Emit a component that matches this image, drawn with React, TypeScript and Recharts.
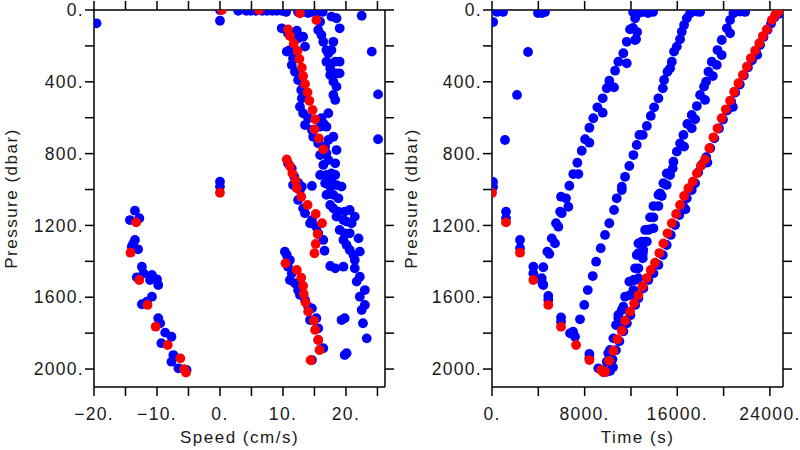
import { ScatterChart, Scatter, XAxis, YAxis } from 'recharts'

const pressureTicks = [0, 200, 400, 600, 800, 1000, 1200, 1400, 1600, 1800, 2000]
const speedTicks = [-20, -15, -10, -5, 0, 5, 10, 15, 20, 25]
const timeTicks = [0, 4000, 8000, 12000, 16000, 20000, 24000]

// speed (cm/s), pressure (dbar)
const speedBlueSurface = [
  [-19.6, 74], [0, 0], [0, 60], [2.9, 5], [4.2, 5], [4.9, 5], [5.7, 5], [6.7, 5], [7.5, 5], [8.3, 5],
  [9.0, 5], [9.8, 5], [10.5, 11], [12.4, 11], [13.2, 11], [14.0, 17], [14.8, 11], [15.6, 11], [16.3, 11],
  [17.7, 37], [18.5, 46], [22.5, 32], [24.1, 232], [25.1, 470], [25.1, 720], [0, 956], [0, 984],
]
const speedBlueUpper = [
  [9.8, 102], [12.2, 115], [10.8, 130], [12.4, 158], [13.2, 149], [13.5, 204], [11.1, 223], [10.6, 232],
  [11.6, 269], [11.4, 306], [11.9, 344], [12.4, 390], [13.2, 408], [12.9, 446], [13.0, 492], [12.7, 539],
  [13.2, 575], [14.0, 603], [13.5, 641], [14.6, 668], [14.8, 706], [15.9, 650], [16.4, 631], [15.6, 742],
  [15.9, 808], [16.7, 761], [17.2, 724], [16.9, 798], [16.4, 863], [16.9, 919], [15.9, 919], [17.7, 956],
  [18.5, 975], [19.3, 984], [10.8, 854], [11.4, 882], [11.8, 929], [12.4, 962], [13.0, 984],
]
const speedBlueRight = [
  [15.9, 65], [15.6, 111], [16.1, 139], [16.4, 177], [18.0, 177], [16.9, 223], [17.2, 241], [17.7, 223],
  [16.9, 288], [18.3, 288], [19.0, 288], [17.5, 325], [17.5, 362], [18.5, 353], [19.0, 353], [18.0, 399],
  [18.5, 427], [18.0, 473], [18.3, 501], [17.2, 575], [16.1, 603], [16.9, 650], [18.0, 706], [18.5, 780],
  [18.3, 854], [17.2, 836], [17.7, 910], [18.3, 919], [19.0, 102],
  [11.6, 975], [12.7, 1003], [12.4, 1058], [13.2, 1105], [13.5, 1132], [14.6, 1170], [14.3, 1188],
  [15.3, 1207], [15.6, 1244], [16.4, 1281], [16.6, 1341], [14.6, 980], [16.7, 965], [17.5, 984],
  [16.9, 1030], [18.0, 1030], [18.8, 1049], [17.5, 1086], [18.0, 1105], [18.8, 1123], [19.8, 1123],
  [20.6, 1114], [18.5, 1151], [19.6, 1170], [20.1, 1179], [20.9, 1188], [21.4, 1151], [19.0, 1225],
  [19.8, 1244], [20.6, 1244], [19.6, 1281], [20.1, 1309], [22.0, 1272], [20.6, 1337], [21.2, 1365],
  [22.2, 1346], [21.4, 1393], [21.4, 1439], [22.2, 1486], [21.7, 1513], [23.0, 1560], [22.2, 1597],
  [23.0, 1643], [22.5, 1671], [22.7, 1745], [23.3, 1829], [19.6, 1430], [18.3, 1439], [17.5, 1426],
  [19.8, 1717], [19.3, 1727], [20.1, 1912], [19.8, 1922],
]
const speedBlueLower = [
  [10.3, 1346], [10.6, 1365], [11.1, 1393], [10.8, 1430], [11.4, 1467], [11.1, 1504], [11.9, 1522],
  [12.4, 1560], [12.7, 1587], [13.5, 1615], [14.0, 1653], [14.6, 1662], [14.3, 1727], [15.3, 1717],
  [15.6, 1773], [15.6, 1838], [16.4, 1884], [14.6, 1950],
]
const speedBlueNegative = [
  [-13.5, 1118], [-14.3, 1170], [-12.8, 1160], [-13.5, 1281], [-14.0, 1318], [-13.0, 1333], [-13.8, 1303],
  [-12.4, 1430], [-13.2, 1489], [-12.1, 1467], [-11.1, 1504], [-10.0, 1500], [-9.8, 1532], [-10.8, 1476],
  [-10.8, 1597], [-11.6, 1625], [-12.4, 1639], [-9.8, 1717], [-9.5, 1745], [-8.7, 1797], [-7.7, 1820],
  [-9.3, 1856], [-7.4, 1922], [-7.7, 1959], [-6.6, 1996], [-5.3, 2005],
]
const speedRed = [
  [0.3, 0], [6.2, 0], [12.7, 18], [15.3, 56],
  [10.8, 108], [11.1, 145], [11.7, 186], [12.3, 228], [12.6, 273], [13.0, 321], [13.2, 368], [13.5, 412],
  [13.9, 459], [14.2, 506], [14.7, 557], [15.1, 609], [15.0, 665], [15.7, 715], [16.4, 776],
  [10.6, 832], [11.1, 869], [11.5, 910], [12.0, 952], [12.2, 993], [12.9, 1040], [13.9, 1086], [15.2, 1136],
  [16.2, 1188], [15.5, 1248], [15.2, 1303], [15.0, 1355],
  [10.4, 1411], [12.2, 1448], [12.9, 1491], [13.2, 1537], [13.3, 1582], [13.6, 1630], [14.0, 1680],
  [14.9, 1731], [15.1, 1782], [15.6, 1838], [15.8, 1894], [14.4, 1951],
  [0, 1018],
  [-13.3, 1183], [-14.2, 1352], [-12.8, 1504], [-11.5, 1643], [-10.2, 1764], [-8.3, 1866], [-6.3, 1940],
  [-5.7, 2001], [-5.4, 2020],
]

// time (s), pressure (dbar)
const timeBlueSparse = [
  [100, 67], [430, 11], [950, 11], [3970, 17], [4320, 17], [4580, 11], [3110, 234], [2160, 473],
  [1120, 724], [90, 958], [90, 986],
]
const timeBlueDescent = [
  [1210, 1123], [1210, 1160], [2420, 1281], [2420, 1327], [3570, 1430], [3570, 1467], [4150, 1500],
  [4380, 1526], [4860, 1593], [4860, 1615], [5960, 1712], [5960, 1736], [6740, 1801], [7170, 1820],
  [7000, 1792], [8410, 1916], [8410, 1940], [9180, 1996], [9620, 2005], [9910, 2015],
]
const timeBlueLine1 = [
  [4430, 1532], [4290, 1494], [4430, 1433], [4780, 1346], [4950, 1359], [5160, 1272], [5440, 1300],
  [5530, 1188], [5730, 1207], [5880, 1123], [6020, 1132], [6590, 1096], [5960, 1040], [6390, 1049],
  [6680, 979], [7020, 914], [7460, 914], [7370, 851], [7750, 784], [8040, 720], [8410, 739], [8410, 656],
  [8750, 603], [9100, 542], [9560, 572], [9560, 492], [9910, 436], [10130, 394], [10540, 431],
  [10630, 338], [10910, 288], [11340, 241], [11640, 297], [11640, 177], [11920, 108], [12180, 100],
  [12530, 123], [12360, 167], [12440, 163], [12360, 46], [12640, 18], [12180, 11], [13050, 11],
  [13480, 17], [13910, 11],
]
const timeBlueLine2 = [
  [7600, 1723], [7970, 1643], [8270, 1560], [8700, 1482], [8990, 1402], [9390, 1327], [9760, 1253],
  [10130, 1188], [10540, 1114], [10770, 1049], [11210, 1003], [11210, 984], [11490, 929], [11860, 869],
  [12210, 808], [12500, 752], [12730, 696], [13020, 696], [13370, 646], [13710, 590], [14000, 542],
  [14370, 492], [14750, 436], [14860, 390], [15150, 344], [15380, 325], [15530, 288], [15720, 232],
  [15960, 204], [16240, 163], [16390, 121], [16590, 84], [16820, 46], [17110, 18], [17690, 9], [17970, 11],
]
const timeBlueLine3 = [
  [9910, 1959], [10040, 1912], [10190, 1894], [10480, 1829], [10710, 1755], [10910, 1717], [11210, 1671],
  [11490, 1597], [11860, 1513], [12210, 1504], [12360, 1439], [12500, 1365], [12640, 1300],
  [11060, 1755], [10910, 1699], [11340, 1653], [11920, 1588], [12210, 1560], [12360, 1504], [12640, 1494],
  [12640, 1439], [12640, 1355], [13020, 1359], [13020, 1383], [13070, 1337], [12930, 1290], [13220, 1290],
  [13370, 1290], [13500, 1225], [13220, 1225], [13590, 1222], [13940, 1216], [13650, 1155], [13940, 1155],
  [13940, 1092], [14370, 1092], [14370, 1030], [14660, 1036], [14510, 1021], [14800, 965], [15090, 975],
  [15380, 919], [15090, 910], [15610, 882], [15670, 845], [15960, 789], [16590, 761], [16240, 743],
  [16530, 696], [17250, 659], [16870, 635], [17540, 609], [17250, 585], [17690, 535], [18400, 501],
  [17970, 473], [18310, 427], [18490, 399], [19070, 368], [18690, 344], [19410, 306], [18980, 288],
  [19840, 251], [19470, 223], [19840, 167], [20560, 130], [20280, 102], [20560, 56], [20850, 18],
  [21430, 9], [21860, 11],
]
const timeBlueAscent = [
  [24650, 12], [24850, 20], [24400, 40], [24100, 75], [23800, 110], [23450, 150], [23150, 195],
  [22800, 235], [22900, 250], [22450, 280], [22100, 320], [21750, 365], [21400, 415], [21000, 460],
  [20650, 510], [20800, 540], [20300, 560], [19950, 610], [19600, 660], [19200, 715], [18850, 770],
  [18500, 820], [18600, 850], [18150, 860], [17800, 905], [17540, 965], [17250, 1003], [16820, 1049],
  [16530, 1096], [16700, 1110], [16180, 1142], [15810, 1198], [15440, 1253], [15090, 1309], [14750, 1365],
  [14370, 1420], [13940, 1467], [13500, 1504], [13070, 1550], [12640, 1606], [12360, 1643], [11950, 1700],
  [11650, 1745], [11350, 1790], [11000, 1845], [10700, 1895], [10400, 1945], [10200, 2010], [10450, 1990],
]
const timeRed = [
  [0, 1019], [1210, 1183], [2420, 1352], [3570, 1504], [4860, 1643], [5960, 1764], [7260, 1866],
  [8410, 1950], [9420, 2005], [9620, 2018],
  [9760, 2015], [10110, 1954], [10480, 1898], [10830, 1834], [11210, 1786], [11490, 1731], [11920, 1680],
  [12270, 1634], [12640, 1588], [12990, 1539], [13370, 1493], [13710, 1448], [14080, 1408], [14450, 1354],
  [14800, 1300], [15160, 1244], [15530, 1188], [15900, 1136], [16240, 1086], [16590, 1036], [16960, 993],
  [17340, 956], [17690, 910], [18030, 869], [18400, 832], [18770, 770], [19120, 709], [19470, 659],
  [19840, 603], [20190, 553], [20560, 505], [20910, 455], [21280, 408], [21660, 362], [22010, 316],
  [22350, 269], [22720, 227], [23090, 185], [23390, 145], [23730, 108], [24170, 56], [24450, 28], [24740, 9],
]

const toPts = (rows: number[][]) => rows.map(([x, p]) => ({ x, p }))

const tickFont = { fill: '#1a1a1a', fontSize: 17.5, fontFamily: 'Liberation Sans', letterSpacing: 1.3 }
const titleFont = { fill: '#1a1a1a', fontSize: 17, fontFamily: 'Liberation Sans', letterSpacing: 1.5 }

const dot = (color: string) => (props: any) => <circle cx={props.cx} cy={props.cy} r={4.9} fill={color} />

const pressureFmt = (v: number) => (v % 400 === 0 ? `${v}.` : '')
const speedFmt = (v: number) => (v % 10 === 0 ? (v < 0 ? `\u2212${-v}.` : `${v}.`) : '')
const timeFmt = (v: number) => (v % 8000 === 0 ? `${v}.` : '')
const blank = () => ''

function Panel({ blue, red, xDomain, xTicks, xFmt, xLabel, yWidth, right }: any) {
  const axis = { stroke: '#000', strokeWidth: 1.5, tickSize: 9, allowDataOverflow: true, interval: 0 as const }
  return (
    <ScatterChart width={400} height={450} margin={{ top: 0, right: 0, bottom: 0, left: 0 }}>
      <XAxis
        {...axis}
        type="number"
        dataKey="x"
        domain={xDomain}
        ticks={xTicks}
        tickFormatter={xFmt}
        height={63}
        tickMargin={12}
        tick={tickFont}
        label={{ value: xLabel, position: 'insideBottom', offset: 7, ...titleFont }}
      />
      <XAxis
        {...axis}
        xAxisId="top"
        orientation="top"
        type="number"
        dataKey="x"
        domain={xDomain}
        ticks={xTicks}
        tickFormatter={blank}
        tick={tickFont}
        height={10}
      />
      <YAxis
        {...axis}
        type="number"
        dataKey="p"
        domain={[0, 2100]}
        reversed
        ticks={pressureTicks}
        tickFormatter={pressureFmt}
        width={yWidth}
        tickMargin={1}
        tick={tickFont}
        label={{ value: 'Pressure (dbar)', angle: -90, position: 'insideLeft', offset: 11, ...titleFont, style: { textAnchor: 'middle' } }}
      />
      <YAxis
        {...axis}
        yAxisId="right"
        orientation="right"
        type="number"
        dataKey="p"
        domain={[0, 2100]}
        reversed
        ticks={pressureTicks}
        tickFormatter={blank}
        tick={tickFont}
        width={right}
      />
      <Scatter data={blue} fill="#0000ff" shape={dot('#0000ff')} isAnimationActive={false} />
      <Scatter data={red} fill="#ff0000" shape={dot('#ff0000')} isAnimationActive={false} />
    </ScatterChart>
  )
}

export default function App() {
  const speedBlue = toPts([...speedBlueSurface, ...speedBlueUpper, ...speedBlueRight, ...speedBlueLower, ...speedBlueNegative])
  const timeBlue = toPts([...timeBlueSparse, ...timeBlueDescent, ...timeBlueLine1, ...timeBlueLine2, ...timeBlueLine3, ...timeBlueAscent])
  return (
    <div style={{ position: 'absolute', left: 0, top: 0, width: 800, height: 450, background: '#fff', display: 'flex' }}>
      <Panel
        blue={speedBlue}
        red={toPts(speedRed)}
        xDomain={[-20, 26.2]}
        xTicks={speedTicks}
        xFmt={speedFmt}
        xLabel="Speed (cm/s)"
        yWidth={94}
        right={15}
      />
      <Panel
        blue={timeBlue}
        red={toPts(timeRed)}
        xDomain={[0, 25130]}
        xTicks={timeTicks}
        xFmt={timeFmt}
        xLabel="Time (s)"
        yWidth={92}
        right={17}
      />
    </div>
  )
}
